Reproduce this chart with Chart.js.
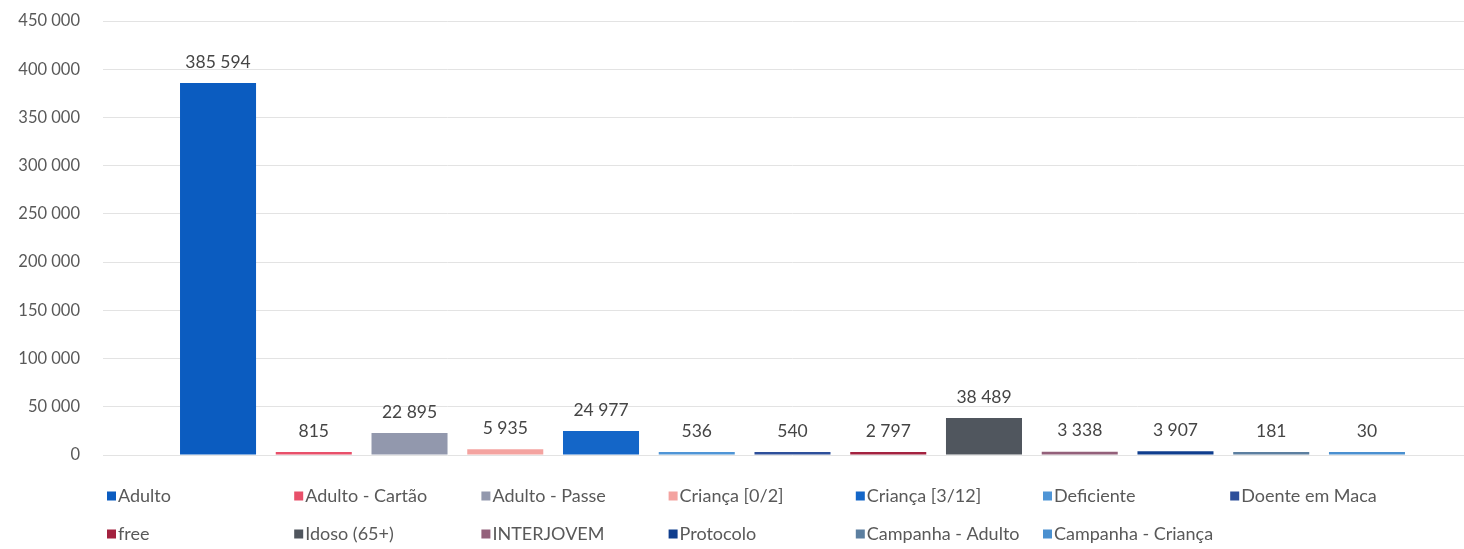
<!DOCTYPE html>
<html>
<head>
<meta charset="utf-8">
<script src="https://cdn.jsdelivr.net/npm/chart.js@4.4.1/dist/chart.umd.min.js"></script>
<style>
  html, body { margin: 0; padding: 0; background: #fff; overflow: hidden; }
  #wrap { position: relative; width: 1482px; height: 549px; }
</style>
</head>
<body>
<div id="wrap"><canvas id="chart"></canvas></div>
<script>
// Ticket types and counts
const ticketTypes = [
  'Adulto', 'Adulto - Cartão', 'Adulto - Passe', 'Criança [0/2]', 'Criança [3/12]',
  'Deficiente', 'Doente em Maca', 'free', 'Idoso (65+)', 'INTERJOVEM',
  'Protocolo', 'Campanha - Adulto', 'Campanha - Criança',
];
const ticketCounts = [
  385594, 815, 22895, 5935, 24977, 536, 540, 2797, 38489, 3338, 3907, 181, 30,
];
const ticketColors = [
  '#0b5cc0', '#e8506a', '#9298ad', '#f4a3a0', '#1466c8',
  '#4f95d6', '#2d4f9a', '#a3223f', '#50565e', '#93607a',
  '#0f3e8e', '#5c7fa0', '#4a90d0',
];
const yTicks = [0, 50000, 100000, 150000, 200000, 250000, 300000, 350000, 400000, 450000];

const FONT = 'Lato, "Open Sans", sans-serif';
const fmt = (v) => String(v).replace(/\B(?=(\d{3})+(?!\d))/g, ' ');

// value labels above each bar
const valueLabels = {
  id: 'valueLabels',
  afterDatasetsDraw(chart) {
    const ctx = chart.ctx;
    ctx.save();
    ctx.font = '17.5px ' + FONT;
    ctx.fillStyle = '#454545';
    ctx.textAlign = 'center';
    ctx.textBaseline = 'middle';
    chart.data.datasets.forEach((ds, i) => {
      const meta = chart.getDatasetMeta(i);
      meta.data.forEach((bar, j) => {
        if (ds.data[j] == null) return;
        ctx.fillText(fmt(ds.data[j]), bar.x, bar.y - 21);
      });
    });
    ctx.restore();
  },
};

// two-row legend with fixed columns
const gridLegend = {
  id: 'gridLegend',
  afterDraw(chart) {
    const ctx = chart.ctx;
    const cols = 7;
    const colX = 107, colW = 187.2;
    const rowY = [496, 534];
    ctx.save();
    ctx.font = '18px ' + FONT;
    ctx.textBaseline = 'middle';
    ctx.textAlign = 'left';
    chart.data.datasets.forEach((ds, i) => {
      const x = colX + (i % cols) * colW;
      const y = rowY[Math.floor(i / cols)];
      ctx.fillStyle = ds.backgroundColor;
      ctx.fillRect(x, y - 4.5, 9, 9);
      ctx.fillStyle = '#595959';
      ctx.fillText(ds.label, x + 11, y);
    });
    ctx.restore();
  },
};

const datasets = ticketTypes.map((name, i) => ({
  label: name,
  data: [ticketCounts[i]],
  backgroundColor: ticketColors[i],
  borderWidth: 0,
  minBarLength: 3,
  categoryPercentage: 0.9026,
  barPercentage: 0.794,
}));

new Chart(document.getElementById('chart'), {
  type: 'bar',
  data: { labels: [''], datasets },
  options: {
    responsive: true,
    maintainAspectRatio: false,
    animation: false,
    layout: { padding: { top: 21, bottom: 94, left: 0, right: 0 } },
    plugins: {
      legend: { display: false },
      tooltip: { enabled: false },
    },
    scales: {
      x: { display: false },
      y: {
        min: 0,
        max: 450000,
        afterFit: (scale) => {
          scale.width = 103;
          // let layout.padding alone decide the plot's top and bottom
          scale.paddingTop = 0;
          scale.paddingBottom = 0;
        },
        afterBuildTicks: (scale) => {
          scale.ticks = yTicks.map((v) => ({ value: v }));
        },
        border: { display: false },
        grid: { color: '#e3e3e3', lineWidth: 1, drawTicks: false },
        ticks: {
          padding: 23,
          color: '#595959',
          font: { size: 16.5, family: FONT },
          callback: (v) => fmt(v),
        },
      },
    },
  },
  plugins: [valueLabels, gridLegend],
});
</script>
</body>
</html>
